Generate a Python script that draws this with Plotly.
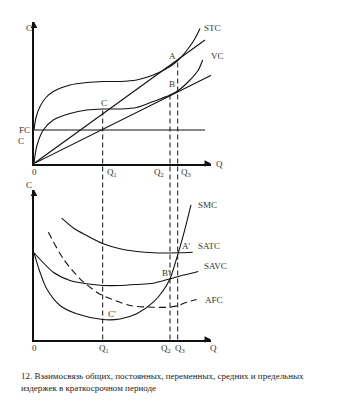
import plotly.graph_objects as go

W, H = 361, 402

# ---------- top panel data (Q, cost) ----------
Q_STC = [0, 2, 6, 12, 19.3, 36, 52.7, 69.3, 86, 102.7, 119.3, 136, 144.3, 154.3, 161, 166]
C_STC = [33.5, 46, 57, 66, 72, 78.5, 81, 82, 82, 83.5, 88.5, 97, 103.5, 115, 125, 135]
Q_VC = [0, 2.7, 9.3, 19.3, 36, 52.7, 69.3, 86, 102.7, 119.3, 136, 144.3, 156, 164.3, 168.7]
C_VC = [0, 17, 33.5, 43.5, 50, 53.5, 54.5, 54.5, 56, 62, 68.5, 73, 83.5, 93.5, 103.5]
Q_RAY1 = [0, 171]
C_RAY1 = [0, 123.5]
Q_RAY2 = [0, 177.7]
C_RAY2 = [0, 88.5]
Q_FC = [0, 171]
C_FC = [33.5, 33.5]

# ---------- bottom panel data ----------
Q_SATC = [27.7, 40, 52.7, 69.3, 86, 102.7, 119.3, 144.3, 158.7]
C_SATC = [121.3, 111, 104, 95.7, 90.7, 88, 86.7, 86.7, 87.3]
Q_SAVC = [0, 19.3, 36, 52.7, 69.3, 86, 102.7, 119.3, 136, 150, 164.3]
C_SAVC = [86.7, 67.3, 59, 55.7, 54, 54, 55, 56.3, 60.7, 64.5, 68]
Q_SMC = [0, 6, 12.7, 26, 42.7, 68.7, 86, 102.7, 119.3, 129.3, 136, 144.3, 151, 157]
C_SMC = [86.7, 67.3, 50.7, 34, 25.7, 20, 20.5, 25.7, 37.3, 49, 60.7, 86.7, 110.7, 134.7]
Q_AFC = [14.3, 29.3, 46, 62.7, 68.7, 96, 119.3, 136, 144.3, 152.7, 162.7]
C_AFC = [107.3, 80.7, 60.7, 47.3, 44, 34, 32.3, 32.3, 34, 37.3, 40]

# Q levels of dashed guide lines and the top-panel cost where each starts
Q_MARKS = [68.7, 136, 143.7]
C_MARK_TOP = [54, 69.5, 103.5]
Q_LABELS = ["Q<sub>1</sub>", "Q<sub>2</sub>", "Q<sub>3</sub>"]

CAPTION = ("12. Взаимосвязь общих, постоянных, переменных, средних и предельных<br>"
           "издержек в краткосрочном периоде")

# ---------- geometry ----------
X_RANGE = [0, 177]
TOP_RANGE = [0, 142]
BOT_RANGE = [0, 150]


def px(x, y):
    return x / W, 1 - y / H


x_dom = [34 / W, 211 / W]
top_dom = [1 - 163.5 / H, 1 - 21.5 / H]
bot_dom = [1 - 339.5 / H, 1 - 189.5 / H]

fig = go.Figure()


def add(q, c, xa, ya, dash=None, shape="spline"):
    fig.add_trace(go.Scatter(x=q, y=c, mode="lines", xaxis=xa, yaxis=ya,
                             line=dict(color="#111", width=1.1, dash=dash, shape=shape, smoothing=0.8),
                             hoverinfo="skip", showlegend=False))


add(Q_STC, C_STC, "x", "y")
add(Q_VC, C_VC, "x", "y")
add(Q_RAY1, C_RAY1, "x", "y", shape="linear")
add(Q_RAY2, C_RAY2, "x", "y", shape="linear")
add(Q_FC, C_FC, "x", "y", shape="linear")

add(Q_SATC, C_SATC, "x2", "y2")
add(Q_SAVC, C_SAVC, "x2", "y2")
add(Q_SMC, C_SMC, "x2", "y2")
add(Q_AFC, C_AFC, "x2", "y2", dash="7px,4px")

# dashed guide lines spanning both panels
for q, c in zip(Q_MARKS, C_MARK_TOP):
    ytop = top_dom[0] + (c - TOP_RANGE[0]) / (TOP_RANGE[1] - TOP_RANGE[0]) * (top_dom[1] - top_dom[0])
    fig.add_shape(type="line", xref="x", yref="paper", x0=q, x1=q, y0=bot_dom[0], y1=ytop,
                  line=dict(color="#111", width=1, dash="5px,3px"))

ax_common = dict(showgrid=False, zeroline=False, showticklabels=False, ticks="",
                 showline=True, linecolor="#111", linewidth=1.5, fixedrange=True)
fig.update_layout(
    width=W, height=H, margin=dict(l=0, r=0, t=0, b=0),
    paper_bgcolor="white", plot_bgcolor="rgba(0,0,0,0)",
    xaxis=dict(domain=x_dom, range=X_RANGE, anchor="y", **ax_common),
    yaxis=dict(domain=top_dom, range=TOP_RANGE, anchor="x", **ax_common),
    xaxis2=dict(domain=x_dom, range=X_RANGE, anchor="y2", **ax_common),
    yaxis2=dict(domain=bot_dom, range=BOT_RANGE, anchor="x2", **ax_common),
    font=dict(family="Liberation Serif", color="#333", size=9),
)

ann = []
# axis arrows
for xa, ya, rng in (("x", "y", TOP_RANGE), ("x2", "y2", BOT_RANGE)):
    ann.append(dict(x=X_RANGE[1], y=0, ax=X_RANGE[1] - 6, ay=0, xref=xa, yref=ya, axref=xa, ayref=ya,
                    text="", showarrow=True, arrowhead=2, arrowsize=1, arrowwidth=1.3, arrowcolor="#111"))
    ann.append(dict(x=0, y=rng[1], ax=0, ay=rng[1] - 6, xref=xa, yref=ya, axref=xa, ayref=ya,
                    text="", showarrow=True, arrowhead=2, arrowsize=1, arrowwidth=1.3, arrowcolor="#111"))


def label(text, x, y, anchor="center", size=9):
    xx, yy = px(x, y)
    ann.append(dict(x=xx, y=yy, xref="paper", yref="paper", text=text, showarrow=False,
                    xanchor=anchor, yanchor="middle", font=dict(size=size)))


# top labels
label("C", 29, 28)
label("STC", 202, 28, "left")
label("VC", 209, 56, "left")
label("A", 172, 56)
label("B", 172, 84)
label("C", 104, 103)
label("FC", 24, 130)
label("C", 21, 141)
label("0", 34, 172)
label("Q", 220, 164)
label(Q_LABELS[0], 112, 172)
label(Q_LABELS[1], 159, 172)
label(Q_LABELS[2], 186, 172)

# bottom labels
label("C", 29, 185)
label("SMC", 196, 205, "left")
label("A'", 186, 246)
label("SATC", 196, 246, "left")
label("SAVC", 202, 266, "left")
label("B'", 166, 273)
label("AFC", 203, 300, "left")
label("C'", 112, 314)
label("0", 34, 348)
label(Q_LABELS[0], 104, 348)
label(Q_LABELS[1], 166, 348)
label(Q_LABELS[2], 180, 348)
label("Q", 213, 348)

xx, yy = px(19, 382)
ann.append(dict(x=xx, y=yy, xref="paper", yref="paper", text=CAPTION, showarrow=False,
                xanchor="left", yanchor="middle", align="left",
                font=dict(size=9, color="#222")))

fig.update_layout(annotations=ann)
fig.write_html("out.html")
